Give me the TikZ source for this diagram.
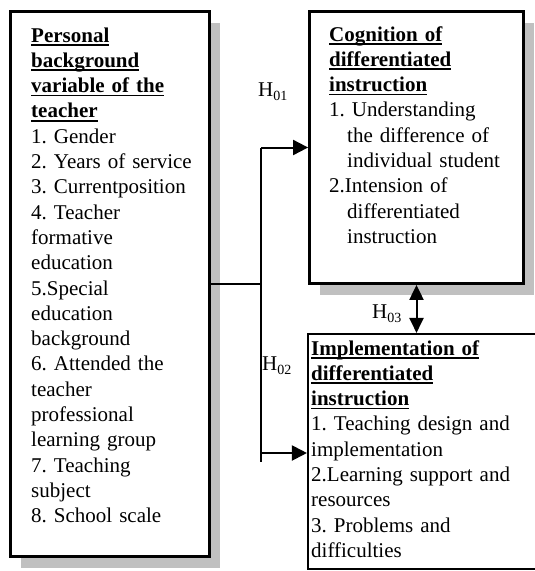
\documentclass[tikz,border=0pt]{standalone}
\usepackage{fontspec}
\setmainfont{Liberation Serif}
\usetikzlibrary{arrows.meta,shadows}
\definecolor{shade}{RGB}{192,192,192}
\frenchspacing
% bold heading line with a fixed-depth underline
\newsavebox\ulinebox
\newcommand{\ulhead}[1]{\leavevmode\sbox\ulinebox{\bfseries #1}\rlap{\rule[-3.8pt]{\wd\ulinebox}{1.7pt}}\usebox\ulinebox}
% lowered, smaller index after H
\newcommand{\hsub}[1]{\raisebox{-4.5pt}{\fontsize{14}{14}\selectfont #1}}
\newcommand{\hang}{\hspace*{18pt}}

\begin{document}
\begin{tikzpicture}[x=1pt,y=-1pt,
  frame/.style={draw=black, fill=white, line width=2.8pt, inner sep=0pt,
    drop shadow={shadow xshift=10pt, shadow yshift=-11pt, fill=shade, opacity=1}},
  plainframe/.style={draw=black, fill=white, line width=1.6pt, inner sep=0pt},
  txt/.style={anchor=base west, inner sep=0pt, text width=230pt, align=left,
    font=\fontsize{21}{25.3}\selectfont},
  hlabel/.style={anchor=base west, inner sep=0pt, font=\fontsize{21}{25}\selectfont},
  link/.style={line width=2pt},
  tip/.style={-{Triangle[length=15pt,width=15pt]}},
  dtip/.style={{Triangle[length=15pt,width=14pt]}-{Triangle[length=15pt,width=14pt]}}
]
\useasboundingbox (0,0) rectangle (535,571);

% boxes
\node[frame, minimum width=199pt, minimum height=545pt] (pb) at (110,284) {};
\node[frame, minimum width=214pt, minimum height=272pt] (cog) at (416.5,147.5) {};
\node[plainframe, minimum width=232pt, minimum height=235.5pt] (impl) at (423.75,451.5) {};

% box texts
\node[txt] (pbtext) at (31,42) {\ulhead{Personal}\\
\ulhead{background}\\
\ulhead{variable of the}\\
\ulhead{teacher}\\
1. Gender\\
2. Years of service\\
3. Currentposition\\
4. Teacher\\
formative\\
education\\
5.Special\\
education\\
background\\
6. Attended the\\
teacher\\
professional\\
learning group\\
7. Teaching\\
subject\\
8. School scale};

\node[txt] (cogtext) at (329,41) {\ulhead{Cognition of}\\
\ulhead{differentiated}\\
\ulhead{instruction}\\
1. Understanding\\
\hang the difference of\\
\hang individual student\\
2.Intension of\\
\hang differentiated\\
\hang instruction};

\node[txt] (impltext) at (311,355) {\ulhead{Implementation of}\\
\ulhead{differentiated}\\
\ulhead{instruction}\\
1. Teaching design and\\
implementation\\
2.Learning support and\\
resources\\
3. Problems and\\
difficulties};

% connectors
\coordinate (j) at (261,284);
\coordinate (jt) at (261,147.5);
\coordinate (jb) at (261,462);
\coordinate (ja) at (261,453);
\draw[link] (pb.east) -- (j);
\draw[link] (jt) -- (jb);
\draw[link, tip] (jt) -- (cog.west);
\draw[link, tip] (ja) -- (ja -| impl.west);
\draw[link, dtip] (cog.south) -- (cog.south |- impl.north);

% hypothesis labels
\node[hlabel] (h1) at (258,96) {H\hsub{01}};
\node[hlabel] (h2) at (262,370) {H\hsub{02}};
\node[hlabel] (h3) at (372,318) {H\hsub{03}};
\end{tikzpicture}
\end{document}
